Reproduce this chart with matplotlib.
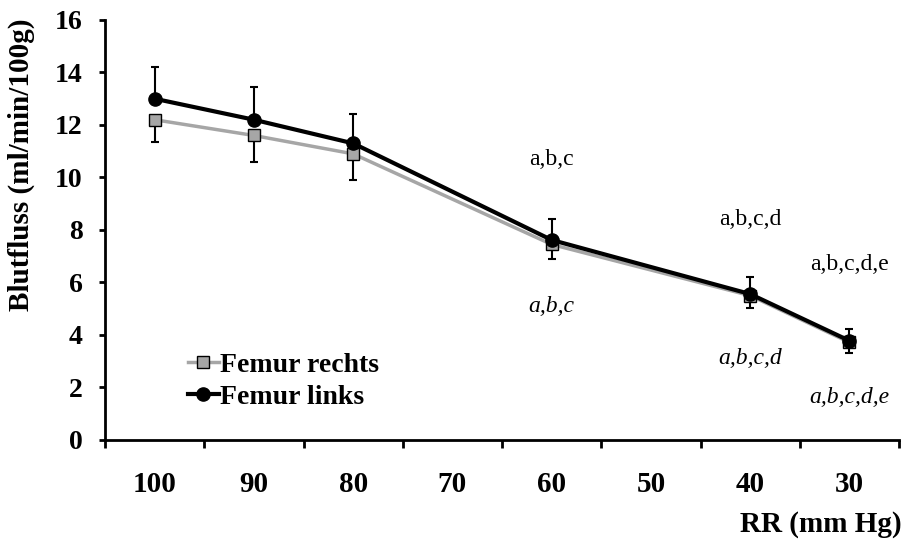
import matplotlib
matplotlib.use("Agg")
import matplotlib.pyplot as plt
import numpy as np

# RR categories (mm Hg) on the x axis
categories = ["100", "90", "80", "70", "60", "50", "40", "30"]
measured = ["100", "90", "80", "60", "40", "30"]

rechts = [12.2, 11.6, 10.9, 7.45, 5.5, 3.72]
rechts_err = [0.85, 1.0, 1.0, 0.55, 0.47, 0.4]
links = [13.0, 12.2, 11.3, 7.62, 5.56, 3.78]
links_err = [1.22, 1.23, 1.12, 0.8, 0.66, 0.43]

# significance labels: (category, y, text)
upright = [("60", 10.7, "a,b,c"), ("40", 8.4, "a,b,c,d"), ("30", 6.7, "a,b,c,d,e")]
italic = [("60", 5.1, "a,b,c"), ("40", 3.1, "a,b,c,d"), ("30", 1.6, "a,b,c,d,e")]

plt.rcParams['font.family'] = ['Liberation Serif', 'DejaVu Serif']

fig = plt.figure(figsize=(9.03, 5.4), dpi=100)
ax = fig.add_axes([0.1163, 0.1852, 0.8793, 0.7778])

x = np.array([categories.index(c) for c in measured]) + 0.5

ax.errorbar(x, rechts, yerr=[rechts_err, [0] * len(rechts)], fmt='none',
            ecolor='black', elinewidth=1.5, capsize=3, capthick=1.5, zorder=2)
ax.errorbar(x, links, yerr=[[0] * len(links), links_err], fmt='none',
            ecolor='black', elinewidth=1.5, capsize=3, capthick=1.5, zorder=2)
ax.plot(x, rechts, color='#a6a6a6', lw=2.5, marker='s', markersize=9,
        markerfacecolor='#a6a6a6', markeredgecolor='black', markeredgewidth=1,
        label='Femur rechts', zorder=3)
ax.plot(x, links, color='black', lw=3, marker='o', markersize=9.5,
        label='Femur links', zorder=4)

for c, y, t in upright:
    ax.text(categories.index(c) + 0.5, y, t, ha='center', va='center', fontsize=17)
for c, y, t in italic:
    ax.text(categories.index(c) + 0.5, y, t, ha='center', va='center',
            fontsize=17, style='italic')

ax.set_xlim(0, len(categories))
ax.set_ylim(0, 16)
ax.set_yticks(range(0, 17, 2))
ax.set_xticks(range(len(categories) + 1))
ax.set_xticklabels([])
ax.set_xticks(np.arange(len(categories)) + 0.5, minor=True)
ax.set_xticklabels(categories, minor=True)
ax.tick_params(axis='x', which='minor', length=0, pad=22)
ax.tick_params(axis='x', which='major', length=6, width=2, direction='out')
ax.tick_params(axis='y', length=4, width=2, direction='out', pad=12)
for lab in ax.get_xticklabels(minor=True):
    lab.set_fontsize(21)
    lab.set_fontweight('bold')
for lab in ax.get_yticklabels():
    lab.set_fontsize(20)
    lab.set_fontweight('bold')

for s in ['top', 'right']:
    ax.spines[s].set_visible(False)
for s in ['left', 'bottom']:
    ax.spines[s].set_linewidth(2)

ax.set_ylabel('Blutfluss (ml/min/100g)', fontsize=21, fontweight='bold')
ax.yaxis.set_label_coords(-0.088, 0.655)
fig.text(0.998, 0.003, 'RR (mm Hg)', ha='right', va='bottom', fontsize=21,
         fontweight='bold')

ax.legend(loc='lower left', bbox_to_anchor=(0.08, 0.025), frameon=False,
          prop={'size': 20, 'weight': 'bold'}, handlelength=1.1,
          handletextpad=0.05, labelspacing=0.25, borderpad=0.2)

fig.savefig('out.png', dpi=100)
